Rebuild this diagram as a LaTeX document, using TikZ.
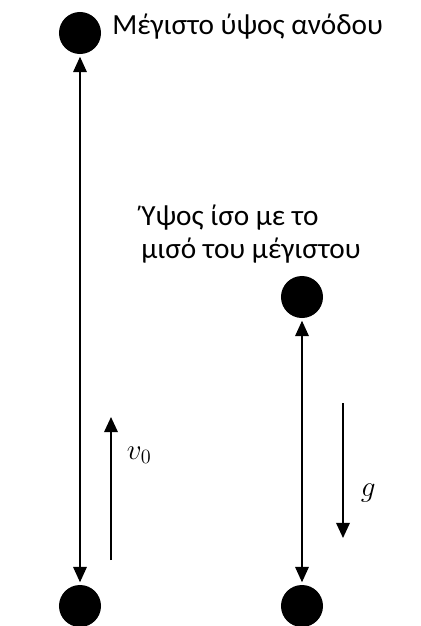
\documentclass[tikz,border=0pt]{standalone}
\usepackage{fontspec}
\setmainfont{Carlito}
\usetikzlibrary{arrows.meta, positioning}

\tikzset{
  ball/.style={circle, fill=black, minimum size=1.05cm, inner sep=0pt, outer sep=0.07cm},
  path/.style={<->, line width=0.8pt},
  vec/.style={->, line width=1.3pt}
}

\begin{document}
\begin{tikzpicture}[>={Triangle[width=3.4mm,length=3.8mm]}, x=0.025cm, y=-0.025cm,
    font=\fontsize{20.8}{22.8}\selectfont]
    \useasboundingbox (0,0) rectangle (421,626);
    % 1. Θέσεις της μπάλας
    \node[ball] (top) at (80,33) {};
    \node[ball] (startL) at (80,606) {};
    \node[ball] (half) at (302,297) {};
    \node[ball] (startR) at (302,606) {};

    % 2. Κείμενα
    \node[anchor=base west, inner sep=0pt] (toplbl) at (112,34) {Μέγιστο ύψος ανόδου};
    \node[anchor=base west, inner sep=0pt, align=left] (halflbl) at (141,258)
        {Ύψος ίσο με το\\μισό του μέγιστου};

    % 3. Διαδρομές
    \draw[path] (startL) -- (top);
    \draw[path] (startR) -- (half);

    % 4. Διανύσματα
    \coordinate (v0a) at (111,560);
    \coordinate (v0b) at (111,417);
    \draw[vec] (v0a) -- (v0b);
    \node[anchor=west] (v0lbl) at (122,455) {$v_0$};
    \coordinate (ga) at (343,403);
    \coordinate (gb) at (343,538);
    \draw[vec] (ga) -- (gb);
    \node[anchor=west] (glbl) at (356,493) {$g$};
\end{tikzpicture}
\end{document}
